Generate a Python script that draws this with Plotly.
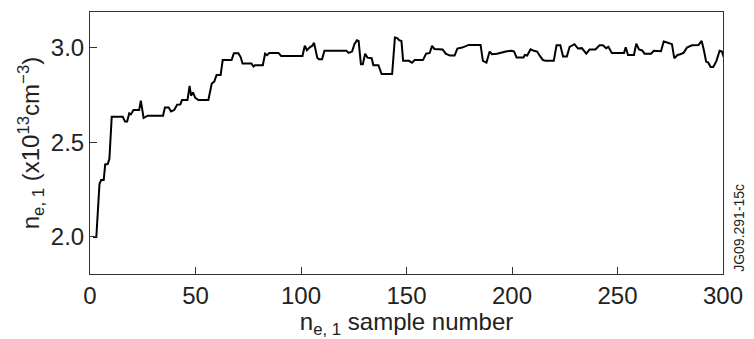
import plotly.graph_objects as go

sample = [1.4, 3, 4.5, 5.3, 6.5, 7.2, 8.4, 9.2, 10.3, 15.5, 16.6, 17.6, 18.6, 19.4, 20.6, 23.3, 24.1, 25.4,
          27.3, 34.6, 35.5, 37.3, 38.4, 39.9, 41.3, 42.8, 43.6, 46.2, 47.2, 47.9, 48.8, 49.9, 51.4, 56.1,
          57.7, 58.9, 60.0, 61.9, 62.9, 67.1, 68.2, 70.3, 71.4, 72.3, 76.5, 77.5, 78.2, 81.9, 83.0, 83.9,
          85.0, 89.3, 90.6, 100.7, 101.8, 102.8, 104.3, 105.3, 106.2, 107.7, 108.5, 110.0, 111.1, 121.5,
          122.6, 124.2, 125.3, 126.5, 127.3, 128.4, 129.3, 130.4, 131.5, 133.5, 134.3, 136.7, 138.2, 143.2,
          144.5, 145.6, 146.5, 147.6, 148.4, 151.2, 152.6, 153.9, 157.8, 159.3, 161.0, 162.1, 163.2, 167.1,
          168.6, 170.6, 172.8, 174.1, 176.4, 177.5, 179.5, 185.1, 186.2, 187.9, 189.4, 190.5, 192.9, 197.6,
          199.9, 201.0, 202.2, 205.4, 206.1, 207.2, 208.8, 210.4, 211.9, 213.2, 214.7, 216.0, 219.8, 221.1,
          222.9, 224.2, 226.0, 227.3, 229.6, 231.3, 233.1, 235.2, 236.8, 239.5, 241.5, 243.1, 244.6, 245.7,
          247.3, 253.1, 253.9, 255.0, 257.8, 258.9, 260.2, 261.7, 262.8, 265.9, 267.2, 270.6, 271.9, 273.5,
          275.8, 276.9, 278.5, 279.7, 281.3, 282.9, 285.3, 288.4, 289.9, 291.0, 292.0, 293.0, 294.1, 295.4,
          296.9, 298.4, 299.5, 300.3]
density = [2.0, 2.0, 2.28, 2.30, 2.30, 2.383, 2.385, 2.413, 2.635, 2.635, 2.609, 2.609, 2.653, 2.647, 2.67, 2.67,
           2.72, 2.628, 2.64, 2.64, 2.684, 2.684, 2.663, 2.67, 2.698, 2.70, 2.723, 2.723, 2.798, 2.746, 2.764,
           2.734, 2.723, 2.723, 2.81, 2.82, 2.855, 2.855, 2.934, 2.934, 2.97, 2.97, 2.95, 2.916, 2.916, 2.90,
           2.907, 2.907, 2.968, 2.96, 2.972, 2.972, 2.956, 2.956, 3.01, 2.986, 3.003, 3.009, 3.025, 2.947,
           2.939, 2.939, 2.983, 2.983, 2.972, 2.979, 3.018, 3.039, 3.035, 2.912, 2.912, 2.968, 2.947, 2.944,
           2.907, 2.907, 2.86, 2.86, 3.053, 3.05, 3.039, 3.035, 2.93, 2.93, 2.92, 2.934, 2.934, 2.968, 2.972,
           3.009, 2.993, 2.99, 2.968, 2.958, 2.958, 2.995, 3.0, 3.005, 3.014, 3.014, 2.93, 2.921, 2.979,
           2.965, 2.968, 2.981, 2.983, 2.979, 2.947, 2.947, 2.961, 2.958, 2.991, 2.983, 2.979, 2.956, 2.934,
           2.93, 2.93, 3.012, 3.012, 2.953, 2.953, 3.004, 3.018, 2.995, 2.997, 2.968, 2.99, 2.99, 3.012,
           3.012, 2.997, 3.004, 2.972, 2.972, 3.002, 2.961, 2.961, 3.021, 2.99, 2.985, 2.968, 2.968, 2.983,
           2.981, 3.032, 3.027, 3.018, 2.944, 2.961, 2.965, 2.972, 3.0, 3.012, 3.014, 3.035, 2.983, 2.926,
           2.921, 2.898, 2.898, 2.93, 2.983, 2.979, 2.95]

x_ticks = [0, 50, 100, 150, 200, 250, 300]
y_ticks = [2.0, 2.5, 3.0]
y_tick_labels = ["2.0", "2.5", "3.0"]

font_family = "Liberation Sans, Arial, sans-serif"

fig = go.Figure()
fig.add_trace(go.Scatter(x=sample, y=density, mode="lines",
                         line=dict(color="black", width=2), showlegend=False))

fig.update_layout(
    width=754, height=339,
    margin=dict(l=90, r=23, t=11, b=65),
    paper_bgcolor="white", plot_bgcolor="white",
    font=dict(family=font_family, color="#222"),
)
fig.update_xaxes(
    range=[0, 300], tickmode="array", tickvals=x_ticks,
    ticks="inside", ticklen=7, tickcolor="#333", tickwidth=1,
    showgrid=False, zeroline=False,
    showline=True, mirror=True, linecolor="#333", linewidth=1,
    tickfont=dict(size=24, family=font_family, color="#222"),
    title=dict(text="n<sub>e, 1</sub> sample number", font=dict(size=24, family=font_family, color="#222"),
               standoff=0),
)
fig.update_yaxes(
    range=[1.804, 3.188], tickmode="array", tickvals=y_ticks, ticktext=y_tick_labels,
    ticks="inside", ticklen=7, tickcolor="#333", tickwidth=1,
    showgrid=False, zeroline=False,
    showline=True, mirror=True, linecolor="#333", linewidth=1,
    tickfont=dict(size=24, family=font_family, color="#222"),
    title=dict(text="n<sub>e, 1</sub> (x10<sup>13</sup>cm<sup>−3</sup>)",
               font=dict(size=24, family=font_family, color="#222"), standoff=4),
)
fig.add_annotation(text="JG09.291-15c", xref="paper", yref="paper", x=1.025, y=0.0,
                   xanchor="center", yanchor="bottom", textangle=-90, showarrow=False,
                   font=dict(size=14, family=font_family, color="#222"))

fig.write_html("out.html")
